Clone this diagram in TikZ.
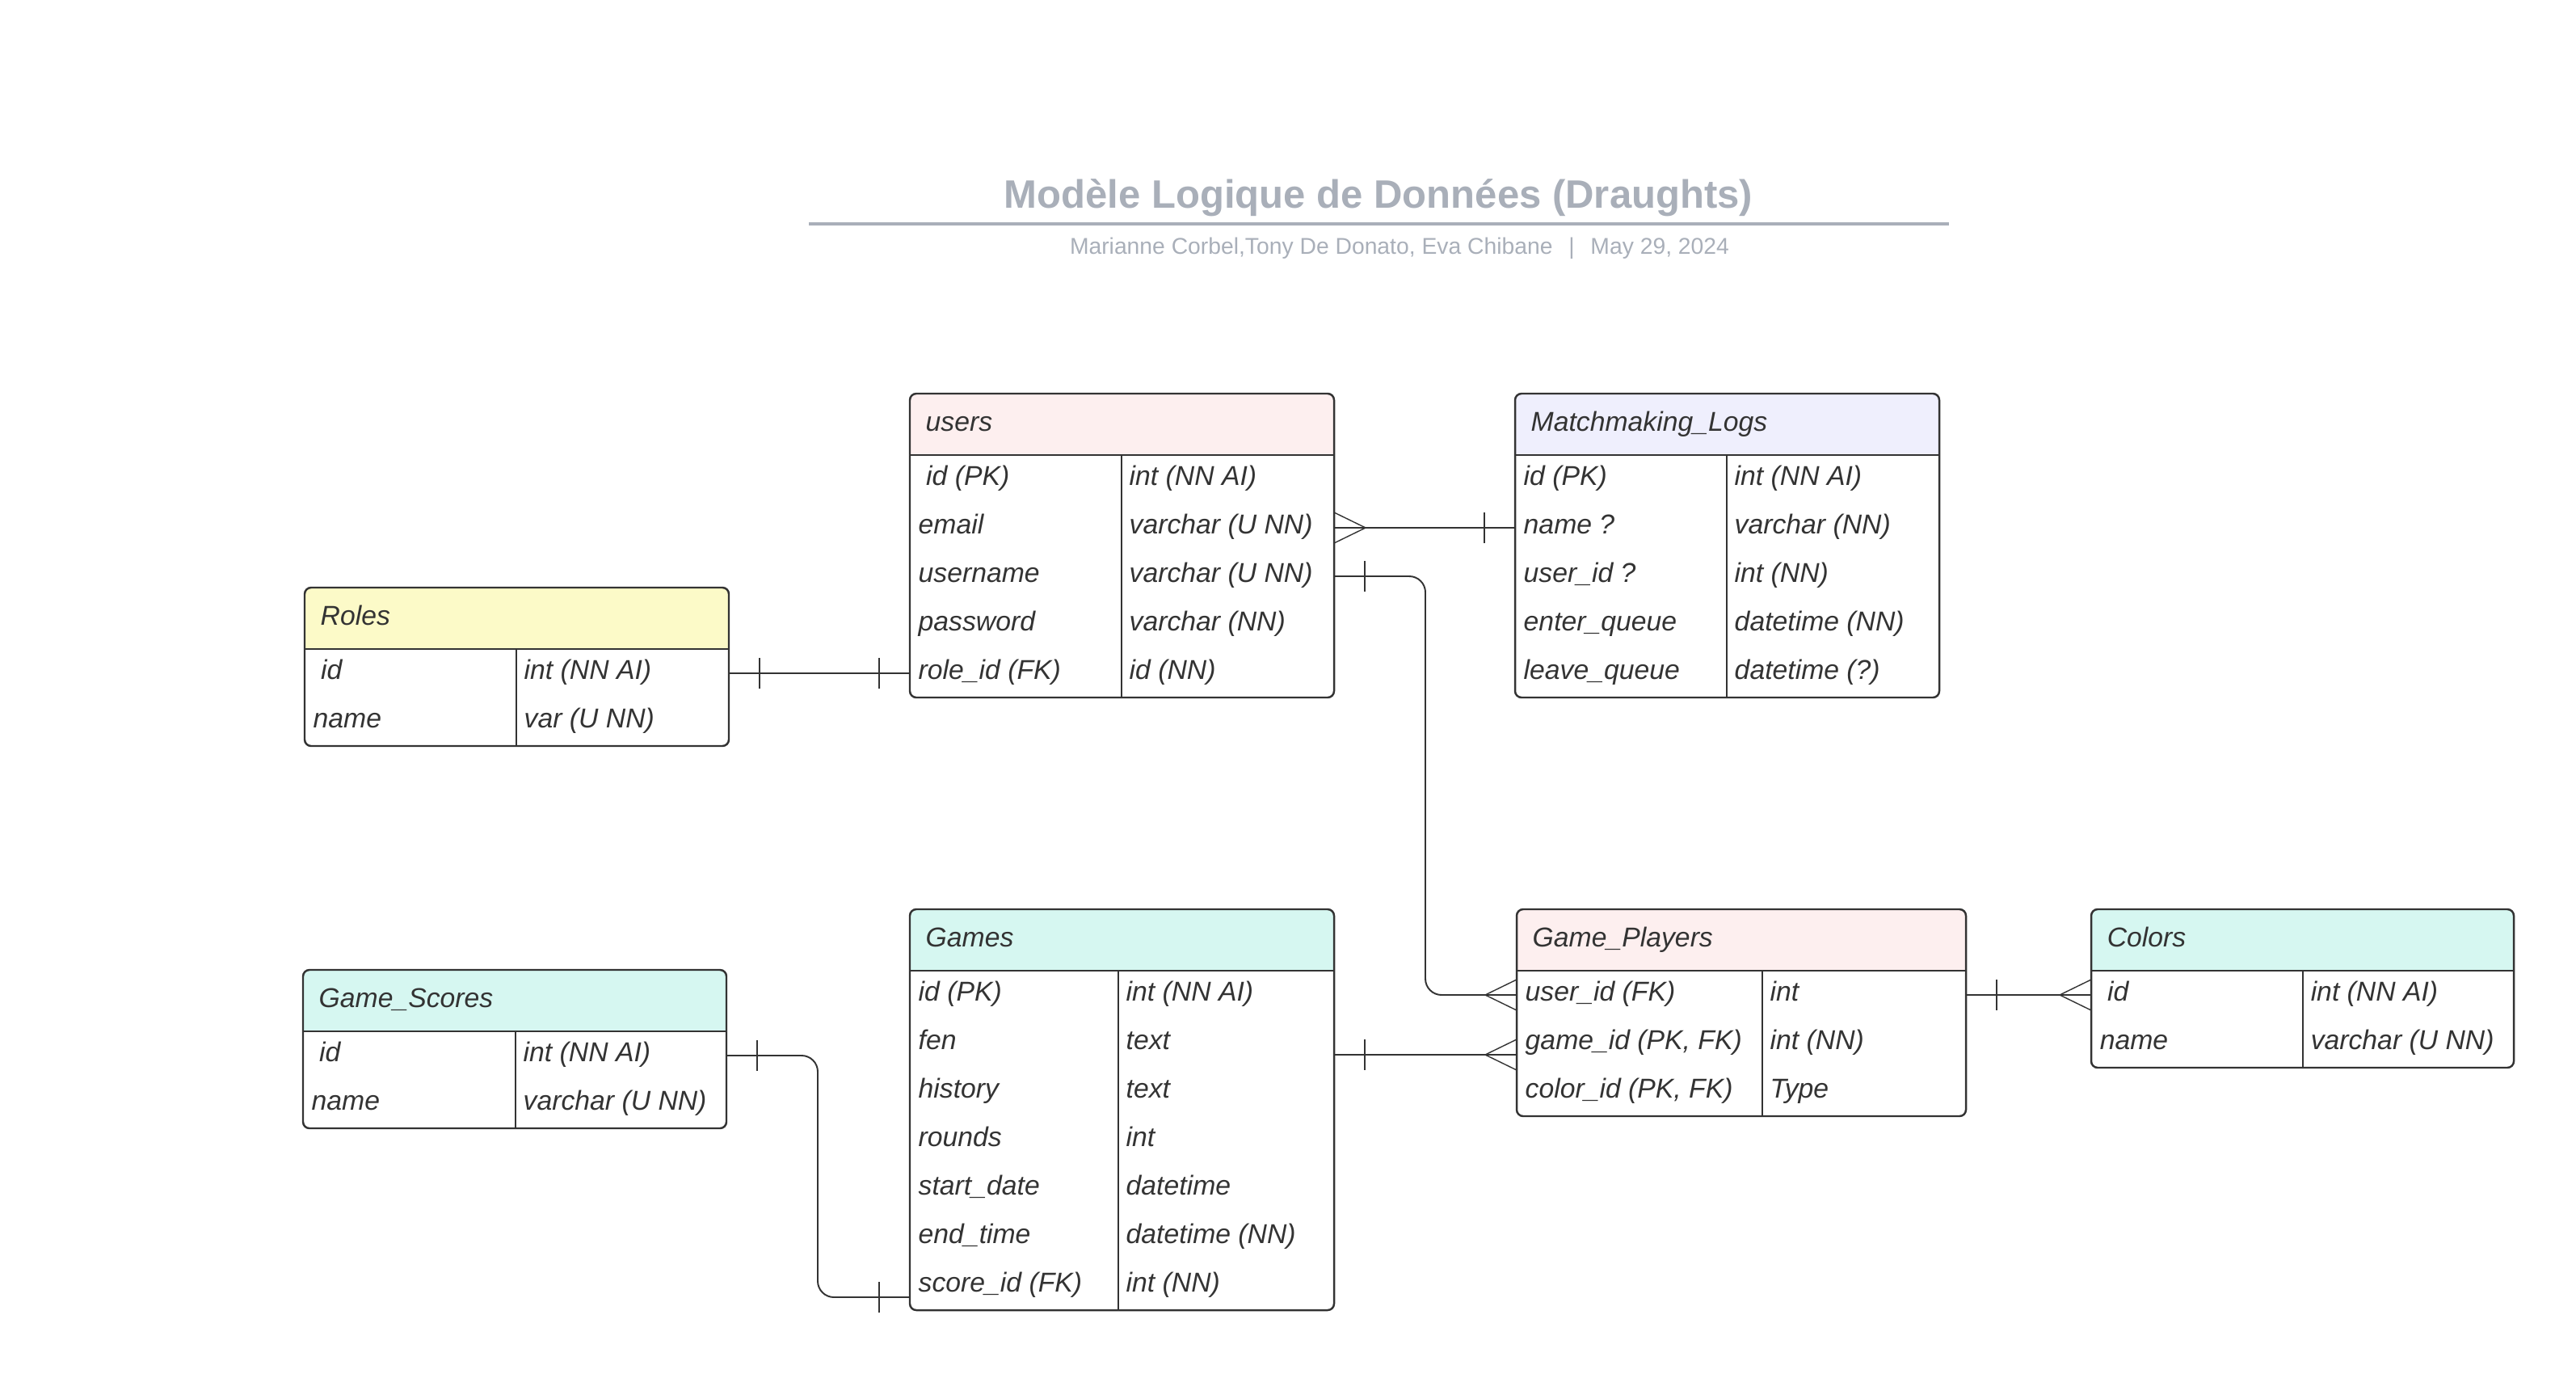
\documentclass[tikz,border=0pt]{standalone}
\usepackage{fontspec}
\setmainfont{Liberation Sans}
\usepackage{tikz}
\usetikzlibrary{calc}

\definecolor{ink}{HTML}{333333}
\definecolor{titlegray}{HTML}{A9AFB9}
\definecolor{hdpink}{HTML}{FDEFEF}
\definecolor{hdlav}{HTML}{EFEFFD}
\definecolor{hdyellow}{HTML}{FCFAC8}
\definecolor{hdcyan}{HTML}{D6F7F1}

\tikzset{
  tabline/.style={draw=ink, line width=0.7pt},
  thinline/.style={draw=ink, line width=0.4pt},
  link/.style={draw=ink, line width=0.55pt},
  cell/.style={anchor=base west, inner sep=0pt, text=ink, font=\fontsize{9.6}{11}\selectfont\itshape},
  crowfoot/.pic={\draw[thinline] (0,0.19) -- (0.39,0) -- (0,-0.19);},
  onebar/.pic={\draw[thinline] (0.38,0.19) -- (0.38,-0.19);},
}

% #1 name, #2 left, #3 top, #4 width, #5 divider, #6 fill, #7 title, #8 rows, #9 fields
\newcommand{\ertable}[9]{%
  \fill[#6, rounded corners=0.08cm] (#2,#3) rectangle ++(#4,-0.76);
  \fill[#6] (#2,#3-0.4) rectangle ++(#4,-0.36);
  \node[cell] (#1) at (#2+0.19,#3-0.46) {#7};
  \foreach \fa/\fb [count=\i] in {#9} {
    \coordinate (#1-\i-w) at (#2,#3-0.46-0.6*\i);
    \coordinate (#1-\i-e) at (#2+#4,#3-0.46-0.6*\i);
    \node[cell] (#1-\i-a) at (#2+0.1,#3-0.53-0.6*\i) {\fa};
    \node[cell] (#1-\i-b) at (#5+0.09,#3-0.53-0.6*\i) {\fb};
  }
  \draw[thinline] (#5,#3-0.76) -- (#5,#3-0.76-0.6*#8);
  \draw[tabline] (#2,#3-0.76) -- ++(#4,0);
  \draw[tabline, rounded corners=0.08cm] (#2,#3) rectangle ++(#4,-0.76-0.6*#8);
}

\begin{document}
\begin{tikzpicture}
\useasboundingbox (0,0) rectangle (31.88,16.99);

% title
\node[anchor=base, text=titlegray, font=\fontsize{13.95}{16}\selectfont\bfseries] (title) at (17.06,14.41) {Modèle Logique de Données (Draughts)};
\draw[titlegray, line width=1.1pt] (10.01,14.22) -- (24.12,14.22);
\node[anchor=base, text=titlegray, font=\fontsize{8.05}{10}\selectfont] (subtitle) at (17.32,13.84) {Marianne Corbel,Tony De Donato, Eva Chibane\hspace{0.7em}|\hspace{0.7em}May 29, 2024};

% tables
\ertable{users}{11.26}{12.12}{5.25}{13.88}{hdpink}{users}{5}{{\hspace{0.28em}id (PK)}/{int (NN AI)}, email/{varchar (U NN)}, username/{varchar (U NN)}, password/{varchar (NN)}, {role\_id (FK)}/{id (NN)}}
\ertable{logs}{18.75}{12.12}{5.25}{21.37}{hdlav}{Matchmaking\_Logs}{5}{{id (PK)}/{int (NN AI)}, {name ?}/{varchar (NN)}, {user\_id ?}/{int (NN)}, {enter\_queue}/{datetime (NN)}, {leave\_queue}/{datetime (?)}}
\ertable{roles}{3.77}{9.72}{5.25}{6.39}{hdyellow}{Roles}{2}{{\hspace{0.28em}id}/{int (NN AI)}, name/{var (U NN)}}
\ertable{scores}{3.75}{4.99}{5.24}{6.38}{hdcyan}{Game\_Scores}{2}{{\hspace{0.28em}id}/{int (NN AI)}, name/{varchar (U NN)}}
\ertable{games}{11.26}{5.74}{5.25}{13.84}{hdcyan}{Games}{7}{{id (PK)}/{int (NN AI)}, fen/text, history/text, rounds/int, {start\_date}/datetime, {end\_time}/{datetime (NN)}, {score\_id (FK)}/{int (NN)}}
\ertable{players}{18.77}{5.74}{5.56}{21.81}{hdpink}{Game\_Players}{3}{{user\_id (FK)}/int, {game\_id (PK, FK)}/{int (NN)}, {color\_id (PK, FK)}/Type}
\ertable{colors}{25.88}{5.74}{5.23}{28.50}{hdcyan}{Colors}{2}{{\hspace{0.28em}id}/{int (NN AI)}, name/{varchar (U NN)}}

% relations
\coordinate (scorein) at ([yshift=-0.14cm]games-7-w);
\coordinate (gameout) at ([yshift=-0.14cm]games-2-e);
\coordinate (gamein) at ([yshift=-0.14cm]players-2-w);

\draw[link] (users-2-e) -- (logs-2-w);
\pic at (users-2-e) {crowfoot};
\pic[rotate=180] at (logs-2-w) {onebar};

\draw[link, rounded corners=0.2cm] (users-3-e) -- ++(1.13,0) |- (players-1-w);
\pic at (users-3-e) {onebar};
\pic[rotate=180] at (players-1-w) {crowfoot};

\draw[link] (roles-1-e) -- (users-5-w);
\pic at (roles-1-e) {onebar};
\pic[rotate=180] at (users-5-w) {onebar};

\draw[link, rounded corners=0.2cm] (scores-1-e) -- ++(1.13,0) |- (scorein);
\pic at (scores-1-e) {onebar};
\pic[rotate=180] at (scorein) {onebar};

\draw[link] (gameout) -- (gamein);
\pic at (gameout) {onebar};
\pic[rotate=180] at (gamein) {crowfoot};

\draw[link] (players-1-e) -- (colors-1-w);
\pic at (players-1-e) {onebar};
\pic[rotate=180] at (colors-1-w) {crowfoot};
\end{tikzpicture}
\end{document}
